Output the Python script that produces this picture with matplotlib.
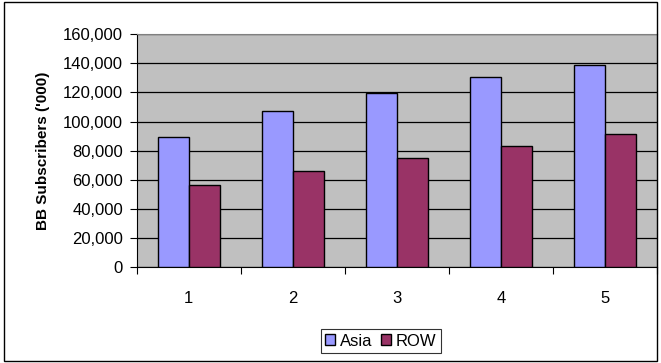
import matplotlib.pyplot as plt
import numpy as np
from matplotlib.patches import Rectangle
from matplotlib.ticker import FuncFormatter

plt.rcParams['font.family'] = ['Liberation Sans', 'DejaVu Sans']

years = ['1', '2', '3', '4', '5']
asia = [89400, 107000, 119300, 130300, 138700]
row = [56500, 66100, 75000, 83400, 91400]

fig = plt.figure(figsize=(6.61, 3.63), dpi=100)
ax = fig.add_axes([0.207, 0.264, 0.787, 0.642])
ax.set_facecolor('#C0C0C0')

x = np.arange(len(years))
w = 0.295
ax.bar(x - w / 2, asia, w, color='#9999FF', edgecolor='black', linewidth=1, label='Asia', zorder=3)
ax.bar(x + w / 2, row, w, color='#993366', edgecolor='black', linewidth=1, label='ROW', zorder=3)

ax.set_ylim(0, 160000)
ax.set_xlim(-0.5, len(years) - 0.5)
ax.set_yticks(np.arange(0, 160001, 20000))
ax.yaxis.set_major_formatter(FuncFormatter(lambda v, p: f'{int(v):,}'))
ax.grid(axis='y', color='black', linewidth=0.9, zorder=1)

# category boundaries as ticks, labels centred
ax.set_xticks(np.arange(-0.5, len(years), 1))
ax.set_xticklabels([])
ax.set_xticks(x, minor=True)
ax.set_xticklabels(years, minor=True)
ax.tick_params(axis='x', which='minor', length=0, pad=17, labelsize=12)
ax.tick_params(axis='x', which='major', length=5, direction='out', color='black')
ax.tick_params(axis='y', length=5, direction='out', labelsize=12, pad=5)

for s in ['top', 'right']:
    ax.spines[s].set_color('#808080')
for s in ['left', 'bottom']:
    ax.spines[s].set_color('black')

ax.set_ylabel("BB Subscribers ('000)", fontsize=11, fontweight='bold', labelpad=9)

leg = ax.legend(loc='center', bbox_to_anchor=(381 / 661, 1 - 341 / 363),
                bbox_transform=fig.transFigure, ncol=2, frameon=True, fancybox=False,
                fontsize=12, handlelength=0.6, handleheight=0.6, handletextpad=0.3,
                columnspacing=0.5, borderpad=0.25, borderaxespad=0)
leg.get_frame().set_edgecolor('black')
leg.get_frame().set_linewidth(0.8)

fig.patches.append(Rectangle((0.006, 0.006), 0.988, 0.988, transform=fig.transFigure,
                             fill=False, edgecolor='black', linewidth=1))

fig.savefig('out.png', dpi=100)
